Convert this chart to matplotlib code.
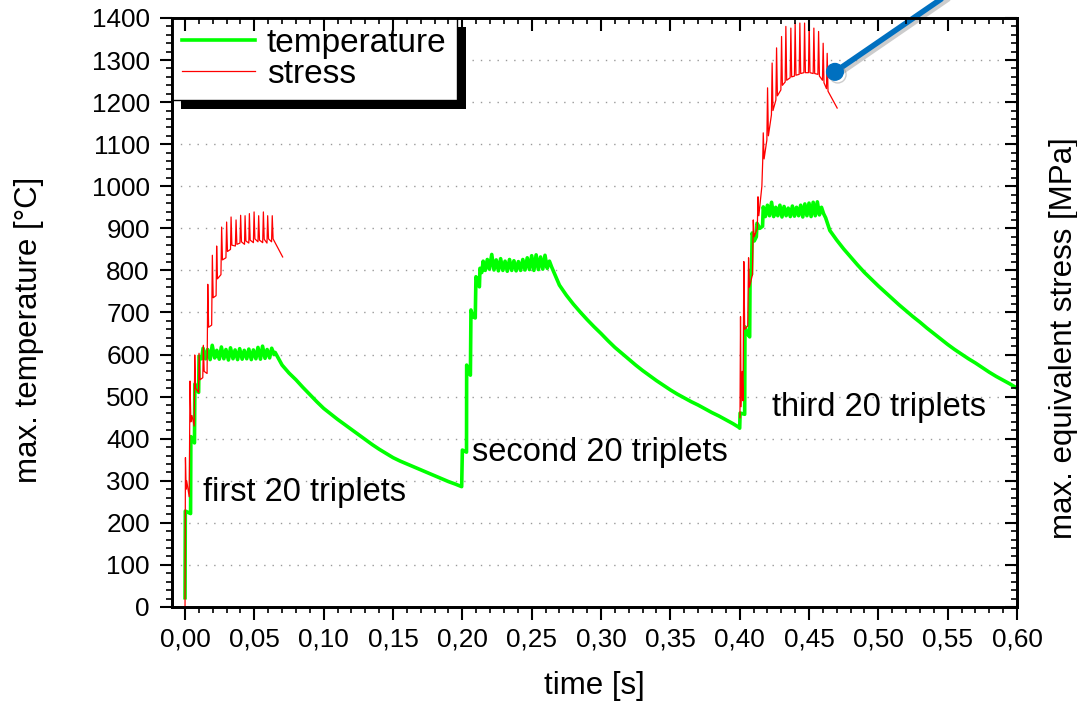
import matplotlib
matplotlib.use('Agg')
import matplotlib.pyplot as plt
import matplotlib.ticker as ticker
import matplotlib.patheffects as pe
from matplotlib.patches import Rectangle

plt.rcParams['font.family'] = ['Liberation Sans', 'DejaVu Sans']

# temperature: first block (heating + cooling)
temp1_t = [0.0000, 0.0002, 0.0040, 0.0042, 0.0068, 0.0071, 0.0098, 0.0101, 0.0120,
           0.0130, 0.0148, 0.0163, 0.0181, 0.0196, 0.0214, 0.0229, 0.0247, 0.0262, 0.0280,
           0.0295, 0.0313, 0.0328, 0.0346, 0.0361, 0.0379, 0.0394, 0.0412, 0.0427, 0.0445,
           0.0460, 0.0478, 0.0493, 0.0511, 0.0526, 0.0544, 0.0559, 0.0577, 0.0592, 0.0610,
           0.0625, 0.0643, 0.065, 0.070, 0.075, 0.080, 0.085, 0.090, 0.095, 0.100, 0.105,
           0.110, 0.115, 0.120, 0.125, 0.130, 0.135, 0.140, 0.145, 0.150, 0.155, 0.160,
           0.165, 0.170, 0.175, 0.180, 0.185, 0.190, 0.195, 0.1995]
temp1_val = [22, 228, 222, 405, 390, 530, 510, 596, 590,
             615, 590, 612, 588, 622, 592, 610, 589, 618, 590,
             612, 587, 616, 590, 611, 588, 614, 589, 610, 590,
             613, 588, 611, 590, 617, 589, 620, 591, 612, 592,
             615, 600, 605, 575, 556, 540, 522, 505, 488, 472, 459,
             446, 434, 422, 410, 398, 386, 375, 365, 355, 347, 340,
             333, 326, 319, 312, 305, 298, 292, 286]

# second block
temp2_t = [0.2000, 0.2030, 0.2031, 0.2045, 0.2058, 0.2062, 0.2075, 0.2093, 0.2098, 0.2110,
           0.2123, 0.2127, 0.2140, 0.2150, 0.2165, 0.2180, 0.2195, 0.2212, 0.2228, 0.2244,
           0.2260, 0.2276, 0.2292, 0.2308, 0.2324, 0.2340, 0.2356, 0.2372, 0.2388, 0.2404,
           0.2420, 0.2436, 0.2452, 0.2468, 0.2484, 0.2500, 0.2516, 0.2532, 0.2548, 0.2564,
           0.2580, 0.2596, 0.2612, 0.2628, 0.2644, 0.270, 0.275, 0.280, 0.285, 0.290,
           0.295, 0.300, 0.305, 0.310, 0.315, 0.320, 0.325, 0.330, 0.335, 0.340, 0.345,
           0.350, 0.355, 0.360, 0.365, 0.370, 0.375, 0.380, 0.385, 0.390, 0.395, 0.3995]
temp2_val = [373, 368, 575, 560, 551, 706, 690, 687, 785, 770,
             761, 805, 795, 822, 800, 826, 803, 838, 801, 825,
             799, 828, 800, 822, 798, 826, 800, 823, 799, 821,
             800, 826, 801, 830, 802, 835, 800, 837, 802, 832,
             803, 836, 805, 822, 808, 765, 741, 720, 701, 683,
             666, 650, 633, 617, 603, 589, 575, 562, 550, 538, 527,
             516, 506, 497, 488, 480, 471, 462, 454, 445, 436, 427]

# third block
temp3_t = [0.4000, 0.4003, 0.4036, 0.4038, 0.4055, 0.4072, 0.4075, 0.4085, 0.4090, 0.4105,
           0.4120, 0.4125, 0.4145, 0.4165, 0.4170, 0.4185, 0.4200, 0.4215, 0.4230, 0.4245,
           0.4260, 0.4275, 0.4290, 0.4305, 0.4320, 0.4335, 0.4350, 0.4365, 0.4380, 0.4395,
           0.4410, 0.4425, 0.4440, 0.4455, 0.4470, 0.4485, 0.4500, 0.4515, 0.4530, 0.4545,
           0.4560, 0.4575, 0.4590, 0.4605, 0.462, 0.465, 0.470, 0.475, 0.480, 0.485,
           0.490, 0.495, 0.500, 0.505, 0.510, 0.515, 0.520, 0.525, 0.530, 0.535, 0.540,
           0.545, 0.550, 0.555, 0.560, 0.565, 0.570, 0.575, 0.580, 0.585, 0.590, 0.595, 0.600]
temp3_val = [425, 461, 458, 666, 650, 642, 800, 790, 889, 870,
             880, 912, 900, 905, 951, 928, 955, 930, 962, 928,
             950, 930, 955, 927, 952, 930, 948, 928, 953, 929,
             950, 930, 955, 927, 958, 930, 960, 928, 962, 930,
             963, 932, 950, 935, 925, 895, 872, 851, 832, 813,
             795, 779, 763, 748, 733, 718, 704, 690, 677, 663, 650,
             637, 624, 612, 601, 590, 580, 569, 558, 548, 539, 530, 520]

# stress, only for the first and third block
stress1_t = [0.0000, 0.0003, 0.0008, 0.0012, 0.0030, 0.0036, 0.0042, 0.0050, 0.0066,
             0.0070, 0.0076, 0.0098, 0.0101, 0.0108, 0.0128, 0.0132, 0.0138, 0.0159,
             0.0164, 0.0170, 0.0192, 0.0197, 0.0203, 0.0224, 0.0228, 0.0234, 0.0259,
             0.0264, 0.0270, 0.0295, 0.0300, 0.0306, 0.0328, 0.0332, 0.0338, 0.0363,
             0.0368, 0.0374, 0.0396, 0.0401, 0.0407, 0.0429, 0.0433, 0.0439, 0.0460,
             0.0464, 0.0470, 0.0493, 0.0498, 0.0504, 0.0526, 0.0531, 0.0537, 0.0560,
             0.0565, 0.0571, 0.0591, 0.0596, 0.0602, 0.0624, 0.0629, 0.0635, 0.0704]
stress1_val = [0, 355, 280, 300, 262, 537, 440, 455, 430,
               599, 520, 510, 603, 540, 545, 622, 560, 555,
               767, 665, 670, 836, 735, 740, 858, 780, 790,
               903, 825, 830, 915, 845, 850, 927, 860, 858,
               920, 862, 865, 931, 868, 862, 930, 870, 865,
               935, 872, 866, 939, 875, 868, 930, 872, 866,
               939, 874, 865, 930, 875, 868, 930, 875, 832]

stress3_t = [0.4002, 0.4006, 0.4010, 0.4018, 0.4024, 0.4030, 0.4036, 0.4058, 0.4064,
             0.4070, 0.4092, 0.4098, 0.4104, 0.4127, 0.4132, 0.4138, 0.4160, 0.4166,
             0.4170, 0.4176, 0.4196, 0.4201, 0.4207, 0.4229, 0.4234, 0.4240, 0.4261,
             0.4266, 0.4272, 0.4297, 0.4302, 0.4308, 0.4328, 0.4333, 0.4339, 0.4364,
             0.4369, 0.4375, 0.4395, 0.4400, 0.4406, 0.4429, 0.4434, 0.4440, 0.4463,
             0.4468, 0.4474, 0.4496, 0.4501, 0.4507, 0.4530, 0.4535, 0.4541, 0.4564,
             0.4569, 0.4575, 0.4597, 0.4602, 0.4608, 0.4626, 0.4631, 0.4637, 0.4703]
stress3_val = [450, 690, 476, 560, 490, 821, 660, 668, 830,
               760, 790, 920, 880, 900, 975, 930, 1000, 1060,
               1127, 1065, 1110, 1234, 1120, 1170, 1293, 1180, 1205,
               1329, 1215, 1229, 1356, 1240, 1248, 1380, 1252, 1258,
               1376, 1260, 1262, 1388, 1264, 1266, 1388, 1268, 1270,
               1388, 1270, 1270, 1392, 1270, 1268, 1376, 1268, 1266,
               1368, 1262, 1252, 1340, 1246, 1232, 1316, 1226, 1186]

labels_text = ['first 20 triplets', 'second 20 triplets', 'third 20 triplets']
labels_x = [0.013, 0.207, 0.423]
labels_y = [271, 366, 473]

pointer_start = (0.4687, 1272)
pointer_end = (0.5877, 1541)

temp_t = temp1_t + temp2_t + temp3_t
temp_val = temp1_val + temp2_val + temp3_val

fig = plt.figure(figsize=(10.77, 7.03), dpi=100)
ax = fig.add_axes([0.1597, 0.1366, 0.7846, 0.8378])

l1, = ax.plot(temp_t, temp_val, color='#00ff00', lw=2.6, label='temperature', zorder=3)
l2, = ax.plot(stress1_t, stress1_val, color='red', lw=0.9, label='stress', zorder=3)
ax.plot(stress3_t, stress3_val, color='red', lw=0.9, zorder=3)

for s, x, y in zip(labels_text, labels_x, labels_y):
    ax.text(x, y, s, fontsize=23.5, ha='left', va='center')

ax.set_xlim(-0.0094, 0.6)
ax.set_ylim(0, 1400)
ax.xaxis.set_major_locator(ticker.MultipleLocator(0.05))
ax.xaxis.set_minor_locator(ticker.MultipleLocator(0.01))
ax.yaxis.set_major_locator(ticker.MultipleLocator(100))
ax.yaxis.set_minor_locator(ticker.MultipleLocator(20))
ax.xaxis.set_major_formatter(ticker.FuncFormatter(lambda v, p: f'{v:.2f}'.replace('.', ',')))
ax.tick_params(which='major', direction='out', length=9, width=1.5, labelsize=18.8, pad=6)
ax.tick_params(axis='y', which='major', pad=7)
ax.tick_params(which='minor', direction='out', length=4, width=1.2)
ax.grid(axis='y', which='major', linestyle=(0, (1, 5)), color='#999999', lw=1)
for sp in ax.spines.values():
    sp.set_linewidth(1.8)

ax.set_xlabel('time [s]', fontsize=22.5, labelpad=14)
ax.set_ylabel('max. temperature [°C]', fontsize=22.5)
ax.yaxis.set_label_coords(-0.152, 0.47)

# right and top: ticks pointing in, no labels
axr = ax.twinx()
axr.set_ylim(ax.get_ylim())
axr.yaxis.set_major_locator(ticker.MultipleLocator(100))
axr.yaxis.set_minor_locator(ticker.MultipleLocator(20))
axr.tick_params(which='major', direction='in', length=9, width=1.5, labelright=False)
axr.tick_params(which='minor', direction='in', length=4, width=1.2)
axr.set_ylabel('max. equivalent stress [MPa]', fontsize=22.5)
axr.yaxis.set_label_coords(1.038, 0.457)

axt = ax.twiny()
axt.set_xlim(ax.get_xlim())
axt.xaxis.set_major_locator(ticker.MultipleLocator(0.05))
axt.xaxis.set_minor_locator(ticker.MultipleLocator(0.01))
axt.tick_params(which='major', direction='in', length=9, width=1.5, labeltop=False)
axt.tick_params(which='minor', direction='in', length=4, width=1.2)
for a in (axr, axt):
    for sp in a.spines.values():
        sp.set_linewidth(1.8)

leg = ax.legend(handles=[l1, l2], loc='upper left', borderaxespad=0, fontsize=24,
                frameon=True, fancybox=False, framealpha=1, edgecolor='black',
                handlelength=2.2, handletextpad=0.35, borderpad=0.3, labelspacing=0.0)
leg.get_frame().set_linewidth(1.0)
leg.set_zorder(6)

# blue pointer
shadow = [pe.SimpleLineShadow(offset=(2, -2), shadow_color='gray', alpha=0.4), pe.Normal()]
ax.plot([pointer_start[0], pointer_end[0]], [pointer_start[1], pointer_end[1]],
        color='#0070C0', lw=4, clip_on=False, zorder=7, solid_capstyle='round', path_effects=shadow)
ax.plot([pointer_start[0]], [pointer_start[1]], 'o', color='#0070C0', ms=12, mec='#0070C0',
        clip_on=False, zorder=7, path_effects=shadow)

# black drop shadow behind the legend
fig.canvas.draw()
bb = leg.get_frame().get_window_extent()
ax.add_patch(Rectangle((bb.x0 + 9, bb.y0 - 9), bb.width, bb.height, transform=None,
                       facecolor='black', edgecolor='none', zorder=5.5, clip_on=False))

fig.savefig('out.png', dpi=100)
